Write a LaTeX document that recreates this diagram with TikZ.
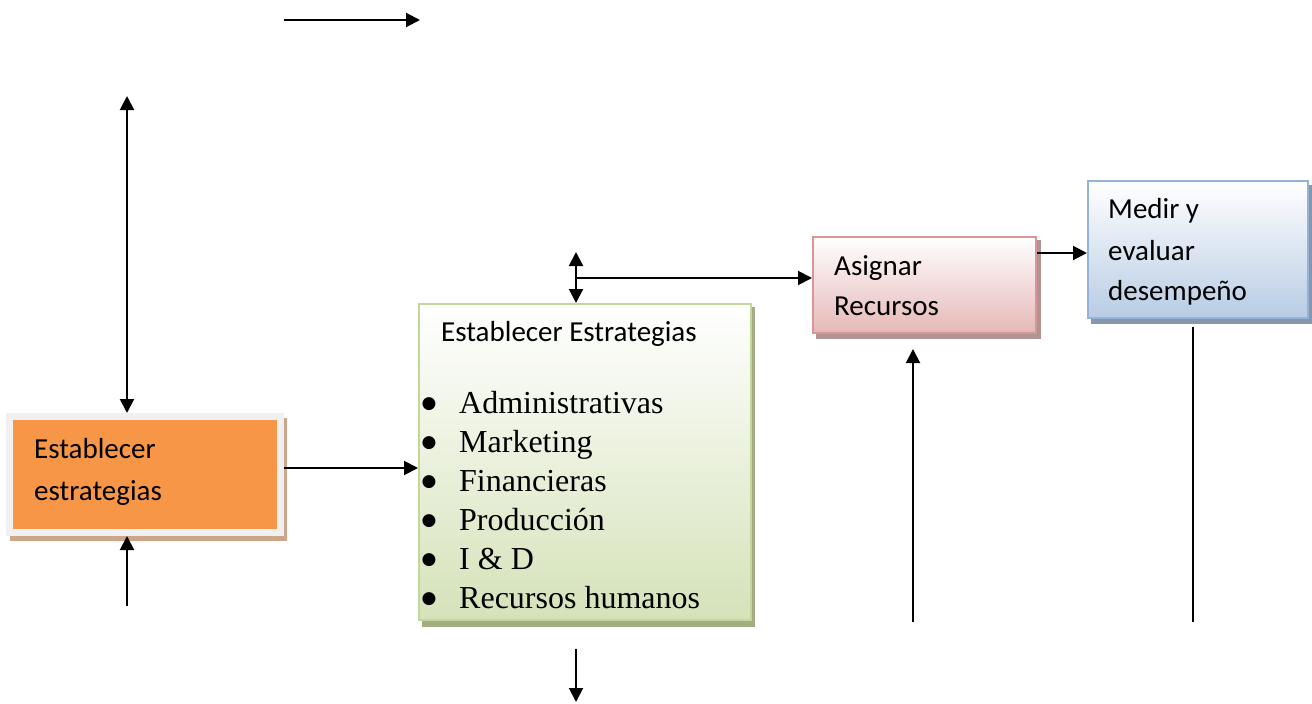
\documentclass[tikz,border=0pt]{standalone}
\usepackage{fontspec}
\setmainfont{Liberation Serif}
\newfontfamily\boxfont{Carlito}
\newfontfamily\symfont{DejaVu Sans}
\usetikzlibrary{arrows.meta}

\definecolor{orangeFill}{HTML}{F79646}
\definecolor{orangeFrame}{HTML}{F0F0F0}
\definecolor{orangeShade}{HTML}{CDA689}
\definecolor{greenLine}{HTML}{C3D69B}
\definecolor{greenFill}{HTML}{D5E2B9}
\definecolor{greenShade}{HTML}{A3AD82}
\definecolor{redLine}{HTML}{D99694}
\definecolor{redFill}{HTML}{E5B8B7}
\definecolor{redShade}{HTML}{B09494}
\definecolor{blueLine}{HTML}{95B3D7}
\definecolor{blueFill}{HTML}{B8CCE4}
\definecolor{blueShade}{HTML}{8597AF}

\begin{document}
\begin{tikzpicture}[x=1pt,y=-1pt,
  box/.style={rectangle, inner sep=0pt, anchor=north west, line width=2pt},
  flow/.style={line width=2pt, -{Triangle[length=14pt,width=14pt]}},
  twoway/.style={line width=2pt, {Triangle[length=14pt,width=14pt]}-{Triangle[length=14pt,width=14pt]}},
  plain/.style={line width=2pt},
  btitle/.style={font=\boxfont\fontsize{29}{42}\selectfont, anchor=base west, inner sep=0pt},
  item/.style={font=\fontsize{32}{39}\selectfont, anchor=base west, inner sep=0pt},
  dot/.style={font=\symfont\fontsize{17}{17}\selectfont, anchor=center, inner sep=0pt}]
\useasboundingbox (0,0) rectangle (1312,704);

% drop shadows behind the boxes
\fill[orangeShade] (10,418) rectangle (287,541);
\fill[greenShade] (422,307) rectangle (755,627);
\fill[redShade] (816,240) rectangle (1041,339);
\fill[blueShade] (1091,185) rectangle (1312,324);

% boxes (anchored at their outer corners)
\node[box, draw=orangeFrame, line width=7pt, fill=orangeFill,
      minimum width=271pt, minimum height=116pt] (est) at (6,413) {};
\node[box, draw=greenLine, top color=white, bottom color=greenFill,
      minimum width=332pt, minimum height=316pt] (strat) at (418,303) {};
\node[box, draw=redLine, top color=white, bottom color=redFill,
      minimum width=223pt, minimum height=96pt] (asig) at (812,236) {};
\node[box, draw=blueLine, top color=white, bottom color=blueFill,
      minimum width=220pt, minimum height=137pt] (eval) at (1087,180) {};

% box texts
\node[btitle] (estA) at (34,458) {Establecer};
\node[btitle] (estB) at (34,500) {estrategias};
\node[btitle] (stratT) at (441,341) {Establecer Estrategias};
\foreach \t [count=\i] in {Administrativas, Marketing, Financieras, Producción, I \& D, Recursos humanos} {
  \node[dot] (bul\i) at (429,{404+39.1*(\i-1)}) {●};
  \node[item] (it\i) at (459,{413+39.1*(\i-1)}) {\t};
}
\node[btitle] (asigA) at (834,275) {Asignar};
\node[btitle] (asigB) at (834,315) {Recursos};
\node[btitle] (evalA) at (1108,218) {Medir y};
\node[btitle] (evalB) at (1108,260) {evaluar};
\node[btitle] (evalC) at (1108,300) {desempeño};

% free ends of the connectors
\coordinate (topL) at (284,20);
\coordinate (topR) at (420,20);
\coordinate (vtop) at (127,96);
\coordinate (vbot) at (127,606);
\coordinate (gtop) at (576,252);
\coordinate (gmid) at (576,278);
\coordinate (gdownA) at (576,649);
\coordinate (gdownB) at (576,702);
\coordinate (rbot) at (913,622);
\coordinate (rtop) at (913,349);
\coordinate (bA) at (1193,327);
\coordinate (bB) at (1193,622);

% connectors
\draw[flow] (topL) -- (topR);
\draw[twoway] (vtop) -- (vtop |- est.north);
\draw[flow] (vbot) -- (vbot |- est.south);
\draw[flow] (est.east |- 0,468) -- (strat.west |- 0,468);
\draw[twoway] (gtop) -- (gtop |- strat.north);
\draw[flow] (gmid) -- (gmid -| asig.west);
\draw[flow] (asig.east |- 0,253) -- (eval.west |- 0,253);
\draw[flow] (rbot) -- (rtop);
\draw[plain] (bA) -- (bB);
\draw[flow] (gdownA) -- (gdownB);
\end{tikzpicture}
\end{document}
